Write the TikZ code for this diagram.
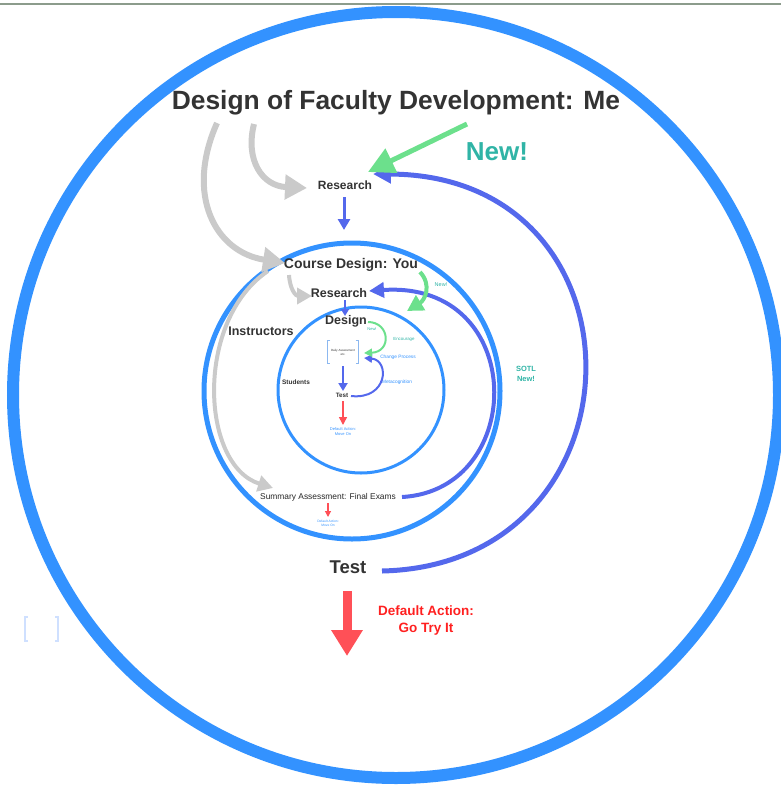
\documentclass[tikz,border=0pt]{standalone}
\usepackage{fontspec}
\setmainfont{Liberation Sans}
\usetikzlibrary{arrows.meta}
\definecolor{cblue}{HTML}{3392FF}
\definecolor{ablue}{HTML}{5468EC}
\definecolor{agreen}{HTML}{6CE08C}
\definecolor{agray}{HTML}{CACACA}
\definecolor{ared}{HTML}{FF5057}
\definecolor{tteal}{HTML}{30B4A6}
\definecolor{tdark}{HTML}{333333}
\definecolor{tred}{HTML}{FF2020}
\definecolor{topline}{HTML}{8C9C8C}
\definecolor{faint}{HTML}{CFE0FF}
\definecolor{brk}{HTML}{8CB8F0}
\newcommand{\fsz}[2]{\fontsize{#1}{#2}\selectfont}
\begin{document}
\begin{tikzpicture}[x=1pt,y=-1pt,
  lbl/.style={inner sep=0pt, text=tdark, align=center},
  tip/.style args={#1/#2}{-{Triangle[length=#1pt,width=#2pt]}},
  gry/.style={draw=agray, line width=#1},
  ring/.style={draw=cblue, line width=#1}]
\useasboundingbox (0,0) rectangle (781,787);
\draw[topline, line width=1.5] (0,4) -- (781,4);
% circles
\draw[ring=12] (396,395) circle[radius=383pt];
\draw[ring=5] (352,391) circle[radius=148pt];
\draw[ring=3] (361,390) circle[radius=83pt];
% texts
\node[lbl, font=\bfseries\fsz{26.4}{30}] (title) at (396,103) {Design of Faculty Development: Me};
\node[lbl, text=tteal, font=\bfseries\fsz{26}{30}] (new1) at (497,152) {New!};
\node[lbl, font=\bfseries\fsz{12}{14}] (res1) at (345,185) {Research};
\node[lbl, font=\bfseries\fsz{14}{16}] (course) at (351,265) {Course Design: You};
\node[lbl, font=\bfseries\fsz{12.5}{14}] (res2) at (339,293) {Research};
\node[lbl, font=\bfseries\fsz{12.5}{14}] (instr) at (261,331) {Instructors};
\node[lbl, font=\bfseries\fsz{12.5}{14}] (design) at (346,321) {Design};
\node[lbl, font=\fsz{3}{4}, minimum width=31pt, minimum height=22pt] (box) at (343,352) {Daily Assessment\\etc.};
\draw[brk, line width=0.8] ([xshift=3pt]box.north west) -- (box.north west) -- (box.south west) -- ([xshift=3pt]box.south west);
\draw[brk, line width=0.8] ([xshift=-3pt]box.north east) -- (box.north east) -- (box.south east) -- ([xshift=-3pt]box.south east);
\node[lbl, font=\bfseries\fsz{6.5}{8}] (stud) at (296,382) {Students};
\node[lbl, font=\bfseries\fsz{6.3}{8}] (test2) at (342,395) {Test};
\node[lbl, text=cblue, font=\fsz{4}{5}] (dm1) at (343,432) {Default Action:\\Move On};
\node[lbl, text=black!85, font=\fsz{8.4}{10}] (summ) at (328,497) {Summary Assessment: Final Exams};
\node[lbl, text=cblue, font=\fsz{3.3}{4.2}] (dm2) at (328,523) {Default Action:\\Move On};
\node[lbl, font=\bfseries\fsz{18.5}{20}] (test1) at (348,567) {Test};
\node[lbl, text=tred, font=\bfseries\fsz{13.5}{17}] (try) at (426,621) {Default Action:\\Go Try It};
\node[lbl, text=tteal, font=\bfseries\fsz{7.5}{10}] (sotl) at (526,374) {SOTL\\New!};
\node[lbl, text=tteal, font=\fsz{5.5}{6}] (new2) at (441,285) {New!};
\node[lbl, text=tteal, font=\fsz{4}{5}] (new3) at (372,329) {New!};
\node[lbl, text=tteal, font=\fsz{4.4}{5}] (enc) at (404,339) {Encourage};
\node[lbl, text=cblue, font=\fsz{4.8}{5}] (chg) at (398,357) {Change Process};
\node[lbl, text=cblue, font=\fsz{4.8}{5}] (meta) at (397,382) {Metacognition};
\node[minimum width=33pt, minimum height=24pt, inner sep=0pt] (fbox) at (41.5,629) {};
\draw[faint, line width=1.5] ([xshift=3pt]fbox.north west) -- (fbox.north west) -- (fbox.south west) -- ([xshift=3pt]fbox.south west);
\draw[faint, line width=1.5] ([xshift=-3pt]fbox.north east) -- (fbox.north east) -- (fbox.south east) -- ([xshift=-3pt]fbox.south east);
% connector end points
\coordinate (g1s) at (254,124);
\coordinate (g1e) at (307,188);
\coordinate (g2s) at (217,123);
\coordinate (g2e) at (285,263);
\coordinate (g3s) at (268,271);
\coordinate (g3e) at (273,488);
\coordinate (g4s) at (289,275);
\coordinate (g4e) at (312,296);
\coordinate (gns) at (467,124);
\coordinate (gne) at (368,172);
\coordinate (bbs) at (382,571);
\coordinate (bbe) at (373,174);
\coordinate (bms) at (402,497);
\coordinate (bme) at (369,291);
\coordinate (bis) at (351,396);
\coordinate (bie) at (364,358);
\coordinate (gms) at (420,272);
\coordinate (gme) at (407,311);
\coordinate (gis) at (368,322);
\coordinate (gie) at (364,353);
\coordinate (r1s) at (344,197);
\coordinate (r1e) at (344,230);
\coordinate (r2s) at (345,300);
\coordinate (r2e) at (345,316);
\coordinate (bxs) at (343,366);
\coordinate (bxe) at (343,391);
\coordinate (t2s) at (343,401);
\coordinate (t2e) at (343,425);
\coordinate (sms) at (328,503);
\coordinate (sme) at (328,517);
\coordinate (t1s) at (347,591);
\coordinate (t1e) at (347,656);
% gray arrows
\draw[gry=6, tip=22/24] (g1s) .. controls (245,160) and (262,186) .. (g1e);
\draw[gry=6, tip=22/24] (g2s) .. controls (185,195) and (215,252) .. (g2e);
\draw[gry=4, tip=15/16] (g3s) .. controls (195,320) and (200,465) .. (g3e);
\draw[gry=4, tip=15/16] (g4s) .. controls (290,290) and (296,296) .. (g4e);
% blue curves
\draw[ablue, line width=5, tip=18/18] (bbs) .. controls (650,565) and (655,175) .. (bbe);
\draw[ablue, line width=4, tip=15/15] (bms) .. controls (528,490) and (528,280) .. (bme);
\draw[ablue, line width=2, tip=8/8] (bis) .. controls (388,400) and (390,360) .. (bie);
% green arrows
\draw[agreen, line width=5, tip=26/26] (gns) -- (gne);
\draw[agreen, line width=4, tip=16/17] (gms) .. controls (432,285) and (425,300) .. (gme);
\draw[agreen, line width=2, tip=8/8] (gis) .. controls (390,322) and (392,352) .. (gie);
% straight arrows
\draw[ablue, line width=3, tip=11/12] (r1s) -- (r1e);
\draw[ablue, line width=2, tip=7/8] (r2s) -- (r2e);
\draw[ablue, line width=2, tip=8/9] (bxs) -- (bxe);
\draw[ared, line width=1.5, tip=8/8] (t2s) -- (t2e);
\draw[ared, line width=1.2, tip=6/6] (sms) -- (sme);
\draw[ared, line width=9, tip=26/30] (t1s) -- (t1e);
\end{tikzpicture}
\end{document}
